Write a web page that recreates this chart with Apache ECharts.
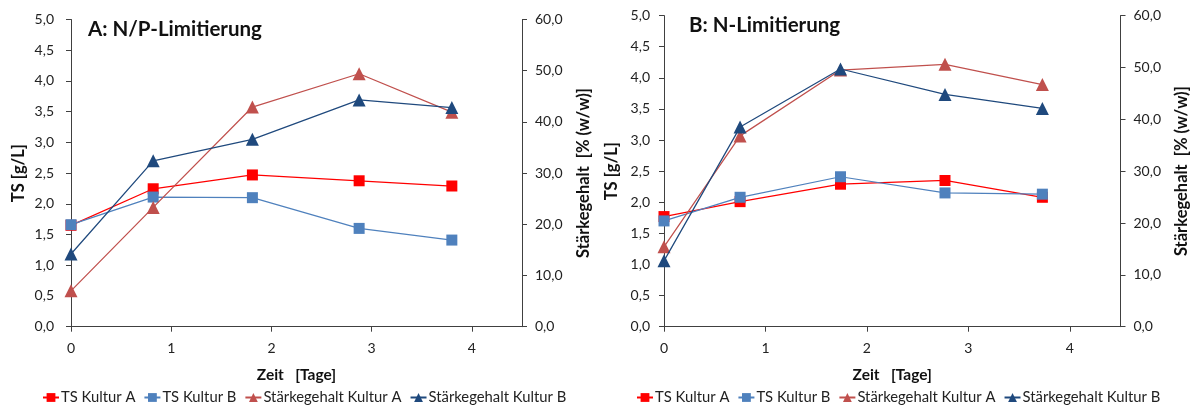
<!DOCTYPE html>
<html>
<head>
<meta charset="utf-8">
<script src="https://cdn.jsdelivr.net/npm/echarts@6/dist/echarts.min.js"></script>
<style>
  html, body { margin: 0; padding: 0; background: #fff; }
  #chart { width: 1194px; height: 409px; }
</style>
</head>
<body>
<div id="chart"></div>
<script>
// Zeitpunkte der Probenahme [Tage]
var zeitA = [0, 0.82, 1.81, 2.875, 3.80];
var zeitB = [0, 0.75, 1.74, 2.77, 3.73];

// A: N/P-Limitierung
var tsKulturA_A = [1.65, 2.245, 2.47, 2.375, 2.29];
var tsKulturB_A = [1.66, 2.11, 2.10, 1.60, 1.41];
var staerkeKulturA_A = [7.0, 23.3, 42.9, 49.4, 41.9];
var staerkeKulturB_A = [14.2, 32.4, 36.6, 44.3, 42.8];

// B: N-Limitierung
var tsKulturA_B = [1.77, 2.01, 2.29, 2.35, 2.08];
var tsKulturB_B = [1.70, 2.08, 2.41, 2.15, 2.13];
var staerkeKulturA_B = [15.4, 36.8, 49.5, 50.6, 46.7];
var staerkeKulturB_B = [12.7, 38.5, 49.7, 44.8, 42.1];

var titles = ['A: N/P-Limitierung', 'B: N-Limitierung'];
var seriesNames = ['TS Kultur A', 'TS Kultur B', 'Stärkegehalt Kultur A', 'Stärkegehalt Kultur B'];
var xTicks = [0, 1, 2, 3, 4];

var FONT = 'Lato, "Open Sans", sans-serif';
var colors = ['#FF0000', '#4F81BD', '#C0504D', '#1F497D'];
var symbols = ['rect', 'rect', 'triangle', 'triangle'];
var symbolSizes = [11, 11, 13, 13];

function pairs(xs, ys) {
  return xs.map(function (x, i) { return [x, ys[i]]; });
}
function komma(v) { return v.toFixed(1).replace('.', ','); }

var panels = [
  { zeit: zeitA, values: [tsKulturA_A, tsKulturB_A, staerkeKulturA_A, staerkeKulturB_A],
    grid: { left: 71, width: 451, top: 19.5, height: 307.2 },
    titlePos: { left: 83, top: 14 }, legendLeft: 42 },
  { zeit: zeitB, values: [tsKulturA_B, tsKulturB_B, staerkeKulturA_B, staerkeKulturB_B],
    grid: { left: 664, width: 456.5, top: 15.6, height: 311.1 },
    titlePos: { left: 684, top: 10 }, legendLeft: 636 }
];

var axisLineStyle = { color: '#404040', width: 1 };
var labelStyle = { color: '#222', fontFamily: FONT, fontSize: 14 };
var nameStyle = { color: '#111', fontFamily: FONT, fontSize: 16.5, fontWeight: 'bold' };

var option = {
  animation: false,
  backgroundColor: '#fff',
  title: [],
  legend: [],
  grid: [],
  xAxis: [],
  yAxis: [],
  series: []
};

panels.forEach(function (p, k) {
  option.grid.push(p.grid);
  option.title.push({
    text: titles[k],
    left: p.titlePos.left,
    top: p.titlePos.top,
    textStyle: { fontFamily: FONT, fontSize: 20.5, fontWeight: 'bold', color: '#111' }
  });
  option.xAxis.push({
    type: 'value', gridIndex: k, min: 0, max: 4.5, interval: 1,
    name: 'Zeit   [Tage]', nameLocation: 'middle', nameGap: 40,
    nameTextStyle: Object.assign({}, nameStyle, { fontSize: 15.5 }),
    axisLine: { lineStyle: axisLineStyle },
    axisTick: { length: 5, lineStyle: axisLineStyle, customValues: xTicks },
    axisLabel: Object.assign({ margin: 15, customValues: xTicks }, labelStyle),
    splitLine: { show: false }
  });
  option.yAxis.push({
    type: 'value', gridIndex: k, min: 0, max: 5, interval: 0.5,
    name: 'TS [g/L]', nameLocation: 'middle', nameRotate: 90, nameGap: 44,
    nameTextStyle: nameStyle,
    axisLine: { show: true, lineStyle: axisLineStyle },
    axisTick: { show: true, length: 5, lineStyle: axisLineStyle },
    axisLabel: Object.assign({ margin: k === 0 ? 17 : 14, formatter: komma }, labelStyle),
    splitLine: { show: false }
  });
  option.yAxis.push({
    type: 'value', gridIndex: k, position: 'right', min: 0, max: 60, interval: 10,
    name: 'Stärkegehalt  [% (w/w)]', nameLocation: 'middle', nameRotate: 90, nameGap: 53,
    nameTextStyle: nameStyle,
    axisLine: { show: true, lineStyle: axisLineStyle },
    axisTick: { show: true, length: 5, lineStyle: axisLineStyle },
    axisLabel: Object.assign({ margin: 13, formatter: komma }, labelStyle),
    splitLine: { show: false }
  });
  p.values.forEach(function (vals, s) {
    option.series.push({
      name: seriesNames[s],
      type: 'line',
      xAxisIndex: k,
      yAxisIndex: k * 2 + (s < 2 ? 0 : 1),
      data: pairs(p.zeit, vals),
      symbol: symbols[s],
      symbolSize: symbolSizes[s],
      showAllSymbol: true,
      itemStyle: { color: colors[s] },
      lineStyle: { color: colors[s], width: 1.25 },
      emphasis: { disabled: true },
      z: 2 + s
    });
  });
  option.legend.push({
    data: seriesNames,
    left: p.legendLeft,
    top: 390,
    padding: 0,
    itemWidth: 16,
    itemHeight: 11,
    itemGap: 8,
    textStyle: { fontFamily: FONT, fontSize: 14.8, color: '#222', padding: [0, 0, 0, -3] }
  });
});

var chart = echarts.init(document.getElementById('chart'), null, { renderer: 'canvas' });
chart.setOption(option);
</script>
</body>
</html>
